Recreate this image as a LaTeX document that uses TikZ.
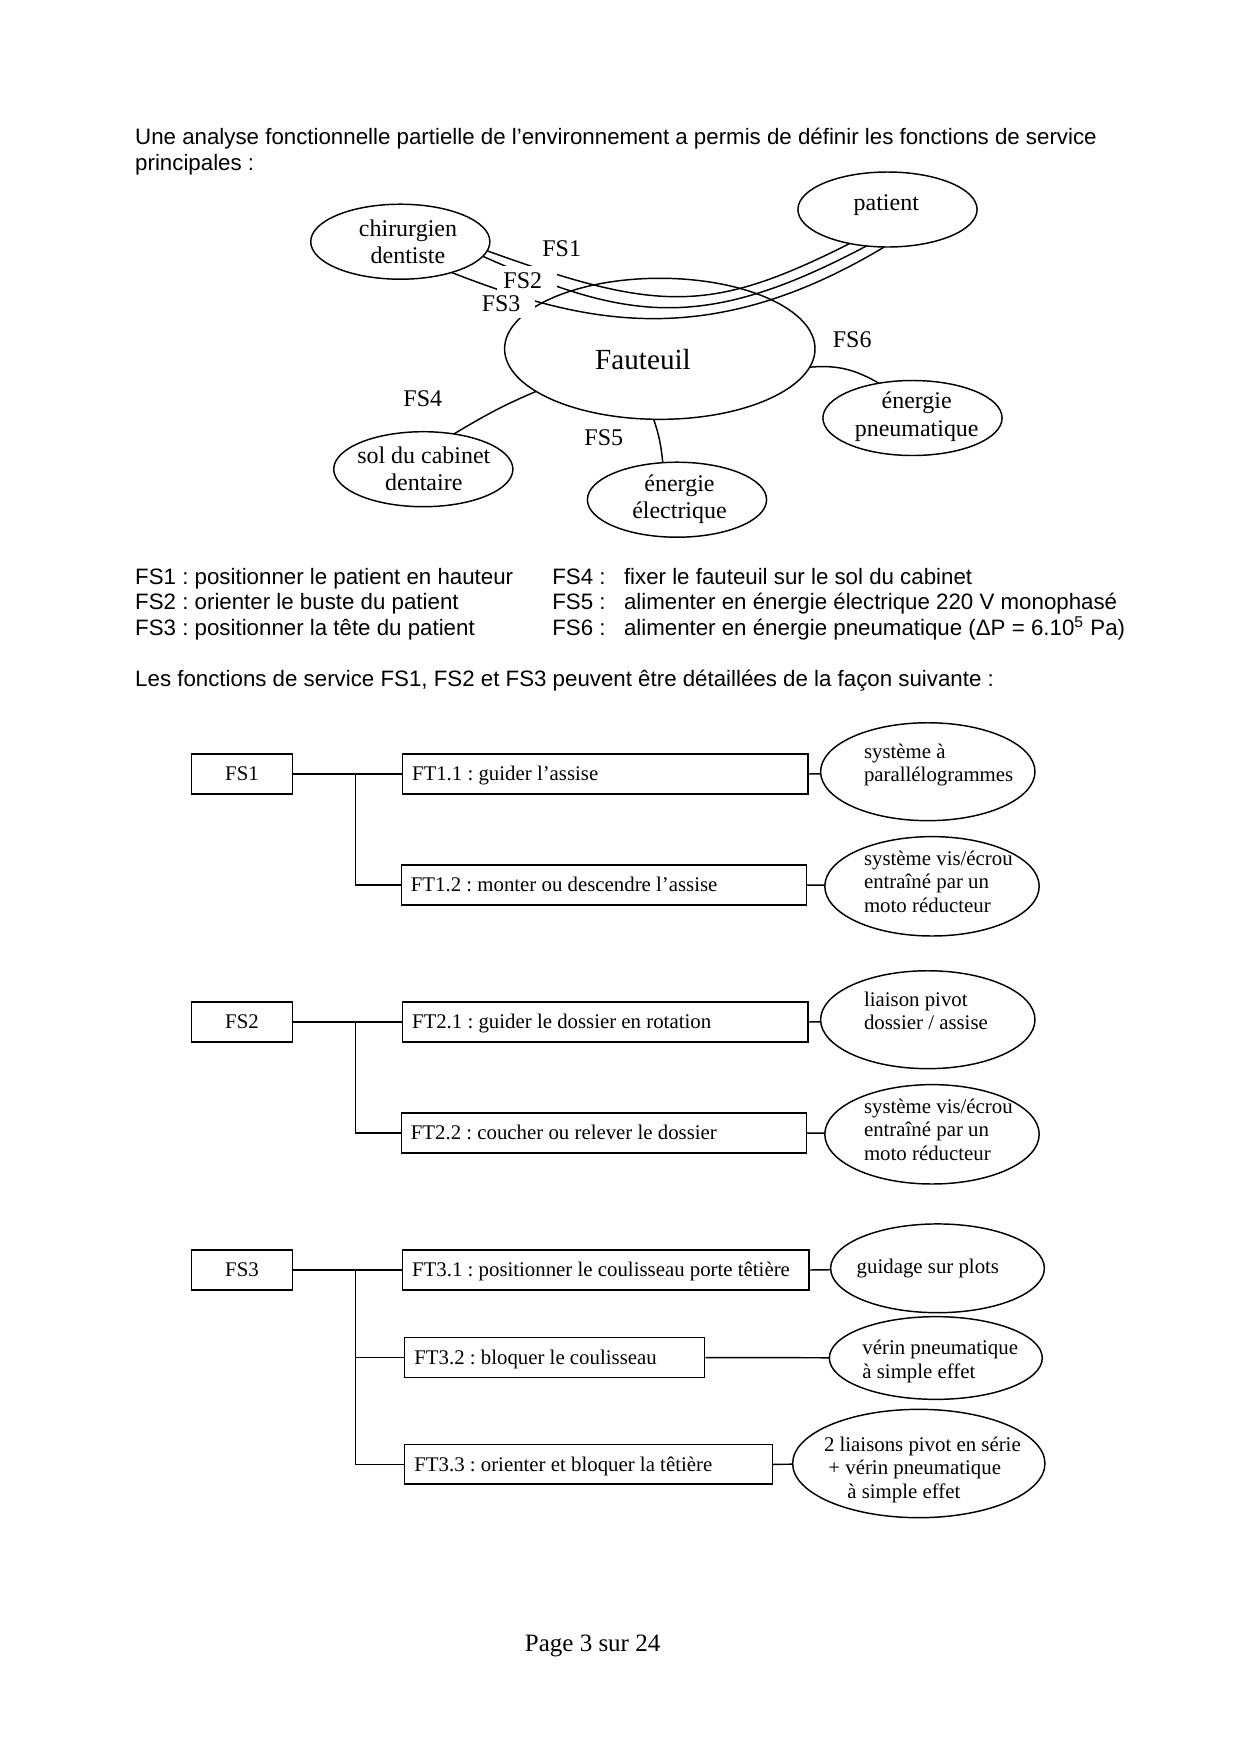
\documentclass[tikz,border=0pt]{standalone}
\usepackage{fontspec}
\setmainfont{Liberation Serif}
\newfontfamily\arialfont{Liberation Sans}
\usetikzlibrary{shapes.geometric}

\begin{document}
\frenchspacing
\begin{tikzpicture}[x=0.48pt, y=0.48pt, line width=0.7pt,
  env/.style={draw, ellipse, inner sep=0pt, outer sep=0pt, minimum width=86pt, minimum height=36pt},
  envtxt/.style={align=center, anchor=base, inner sep=0pt, font=\fontsize{11.5}{13}\selectfont},
  fslabel/.style={anchor=base, inner sep=0pt, font=\fontsize{11.5}{13}\selectfont},
  fsmask/.style={fill=white, anchor=base west, inner sep=3pt, text width=22.6pt, align=flush left, font=\fontsize{11.5}{13}\selectfont},
  fsbox/.style={draw, minimum width=48.3pt, minimum height=19pt, text height=6.6pt, text depth=0pt, inner sep=0pt, font=\fontsize{10}{12}\selectfont},
  ftbox/.style={draw, anchor=west, minimum height=19pt, text height=6.6pt, text depth=0pt, inner xsep=4.6pt, inner ysep=0pt, align=flush left, font=\fontsize{10}{12}\selectfont},
  solell/.style 2 args={draw, ellipse, inner sep=0pt, outer sep=0pt, minimum width=#1, minimum height=#2},
  soltxt/.style={anchor=base west, align=left, inner sep=0pt, font=\fontsize{10}{11.3}\selectfont},
  body/.style={anchor=base west, align=left, inner sep=0pt, font=\arialfont\fontsize{10.7}{12.3}\selectfont}]

\useasboundingbox (0,0) rectangle (1240,-1754);

% Introduction text (anchored on its last line)
\node[body] (intro) at (134.5,-170) {Une analyse fonctionnelle partielle de l’environnement a permis de définir les fonctions de service\\principales :};

% Environment ellipses
\node[env] (chir) at (400.3,-241.7) {};
\node[envtxt] (chirtxt) at (408,-263.3) {chirurgien\\dentiste};
\node[env] (pat) at (887.5,-209.5) {};
\node[envtxt] (pattxt) at (886.3,-210.5) {patient};
\node[env, minimum width=149pt, minimum height=67.7pt] (fau) at (659.8,-348.8) {};
\node[envtxt, font=\fontsize{14}{16}\selectfont] (fautxt) at (643,-369.8) {Fauteuil};
\node[env] (pneu) at (912.5,-418) {};
\node[envtxt] (pneutxt) at (916.7,-436) {énergie\\pneumatique};
\node[env] (sol) at (423.3,-469.2) {};
\node[envtxt] (soltxt) at (423.8,-490.7) {sol du cabinet\\dentaire};
\node[env] (elec) at (677,-499.7) {};
\node[envtxt] (electxt) at (679.5,-518.3) {énergie\\électrique};

% FS1, FS2, FS3 between dentist and patient
\draw (chir.-6) .. controls +(172,-62) and +(-139,-70) .. (pat.-138);
\draw (chir.-10) .. controls +(145,-65) and +(-162,-86) .. (pat.-120);
\draw (chir.-31) .. controls +(129,-50) and +(-178,-107) .. (pat.-95);

% Other service functions
\draw (fau.-161) to[out=203, in=31] (sol.49);
\draw (fau.-95) to[out=-71, in=96] (elec.111);
\draw (fau.-7) to[out=5, in=150] (pneu.134);

% Function labels
\node[fslabel] (fs1lbl) at (561.7,-256.7) {FS1};
\node[fsmask] (fs2lbl) at (496.5,-288.3) {FS2};
\node[fsmask] (fs3lbl) at (474.8,-311.7) {FS3};
\node[fslabel] (fs4lbl) at (422.8,-406) {FS4};
\node[fslabel] (fs5lbl) at (603.8,-445) {FS5};
\node[fslabel] (fs6lbl) at (852.2,-347.3) {FS6};

% Legend (anchored on the last line)
\node[body] (legleft) at (134.5,-635.6) {FS1 : positionner le patient en hauteur\\FS2 : orienter le buste du patient\\FS3 : positionner la tête du patient};
\node[body] (legright) at (551.6,-635.6) {\makebox[34.4pt][l]{FS4 :}fixer le fauteuil sur le sol du cabinet\\\makebox[34.4pt][l]{FS5 :}alimenter en énergie électrique 220 V monophasé\\\makebox[34.4pt][l]{FS6 :}alimenter en énergie pneumatique (ΔP = 6.10\textsuperscript{5} Pa)};
\node[body] (detail) at (134.5,-686) {Les fonctions de service FS1, FS2 et FS3 peuvent être détaillées de la façon suivante :};

% FS1 block
\node[fsbox] (fs1) at (242,-774) {FS1};
\node[ftbox, text width=185.5pt] (ft11) at (401.7,-774) {FT1.1 : guider l’assise};
\node[ftbox, text width=185.2pt] (ft12) at (400.5,-885) {FT1.2 : monter ou descendre l’assise};
\coordinate (j1) at (355.5,-774);
\draw (fs1.east) -- (ft11.west);
\draw (j1) |- (ft12.west);
\node[solell={102.9pt}{47pt}] (e11) at (927.8,-771.7) {};
\node[soltxt] (e11txt) at (863.3,-781.7) {système à\\parallélogrammes};
\node[solell={102.9pt}{47.7pt}] (e12) at (932,-886.3) {};
\node[soltxt] (e12txt) at (863.3,-912.3) {système vis/écrou\\entraîné par un\\moto réducteur};
\draw (ft11.east) -- (e11);
\draw (ft12.east) -- (e12);

% FS2 block
\node[fsbox] (fs2) at (242,-1022) {FS2};
\node[ftbox, text width=185.5pt] (ft21) at (401.7,-1022) {FT2.1 : guider le dossier en rotation};
\node[ftbox, text width=185.2pt] (ft22) at (400.5,-1133) {FT2.2 : coucher ou relever le dossier};
\coordinate (j2) at (355.5,-1022);
\draw (fs2.east) -- (ft21.west);
\draw (j2) |- (ft22.west);
\node[solell={102.9pt}{47pt}] (e21) at (927.8,-1019.7) {};
\node[soltxt] (e21txt) at (863.3,-1029.7) {liaison pivot\\dossier / assise};
\node[solell={102.9pt}{47.7pt}] (e22) at (932,-1134.3) {};
\node[soltxt] (e22txt) at (863.3,-1160.3) {système vis/écrou\\entraîné par un\\moto réducteur};
\draw (ft21.east) -- (e21);
\draw (ft22.east) -- (e22);

% FS3 block
\node[fsbox] (fs3) at (242,-1270) {FS3};
\node[ftbox, text width=185.9pt] (ft31) at (401.8,-1270) {FT3.1 : positionner le coulisseau porte têtière};
\node[ftbox, text width=134.7pt] (ft32) at (404,-1357.5) {FT3.2 : bloquer le coulisseau};
\node[ftbox, text width=167.2pt] (ft33) at (404,-1464.3) {FT3.3 : orienter et bloquer la têtière};
\coordinate (j3) at (355.3,-1270);
\draw (fs3.east) -- (ft31.west);
\draw (j3) |- (ft32.west);
\draw (j3) |- (ft33.west);
\node[solell={102.6pt}{42.6pt}] (e31) at (937.5,-1268.3) {};
\node[soltxt] (e31txt) at (856,-1273.3) {guidage sur plots};
\node[solell={102.2pt}{39.7pt}] (e32) at (935.8,-1358) {};
\node[soltxt] (e32txt) at (861.7,-1378.3) {vérin pneumatique\\à simple effet};
\node[solell={121.1pt}{52pt}] (e33) at (918.8,-1463.5) {};
\node[soltxt] (e33txt) at (823.3,-1498.3) {2 liaisons pivot en série\\\hspace*{2.1pt}+ vérin pneumatique\\\hspace*{11.2pt}à simple effet};
\draw (ft31.east) -- (e31);
\draw (ft32.east) -- (e32);
\draw (ft33.east) -- (e33);

% Page number
\node[anchor=base, inner sep=0pt, font=\fontsize{12}{14}\selectfont] (pagenum) at (592.6,-1651) {Page 3 sur 24};

\end{tikzpicture}
\end{document}
